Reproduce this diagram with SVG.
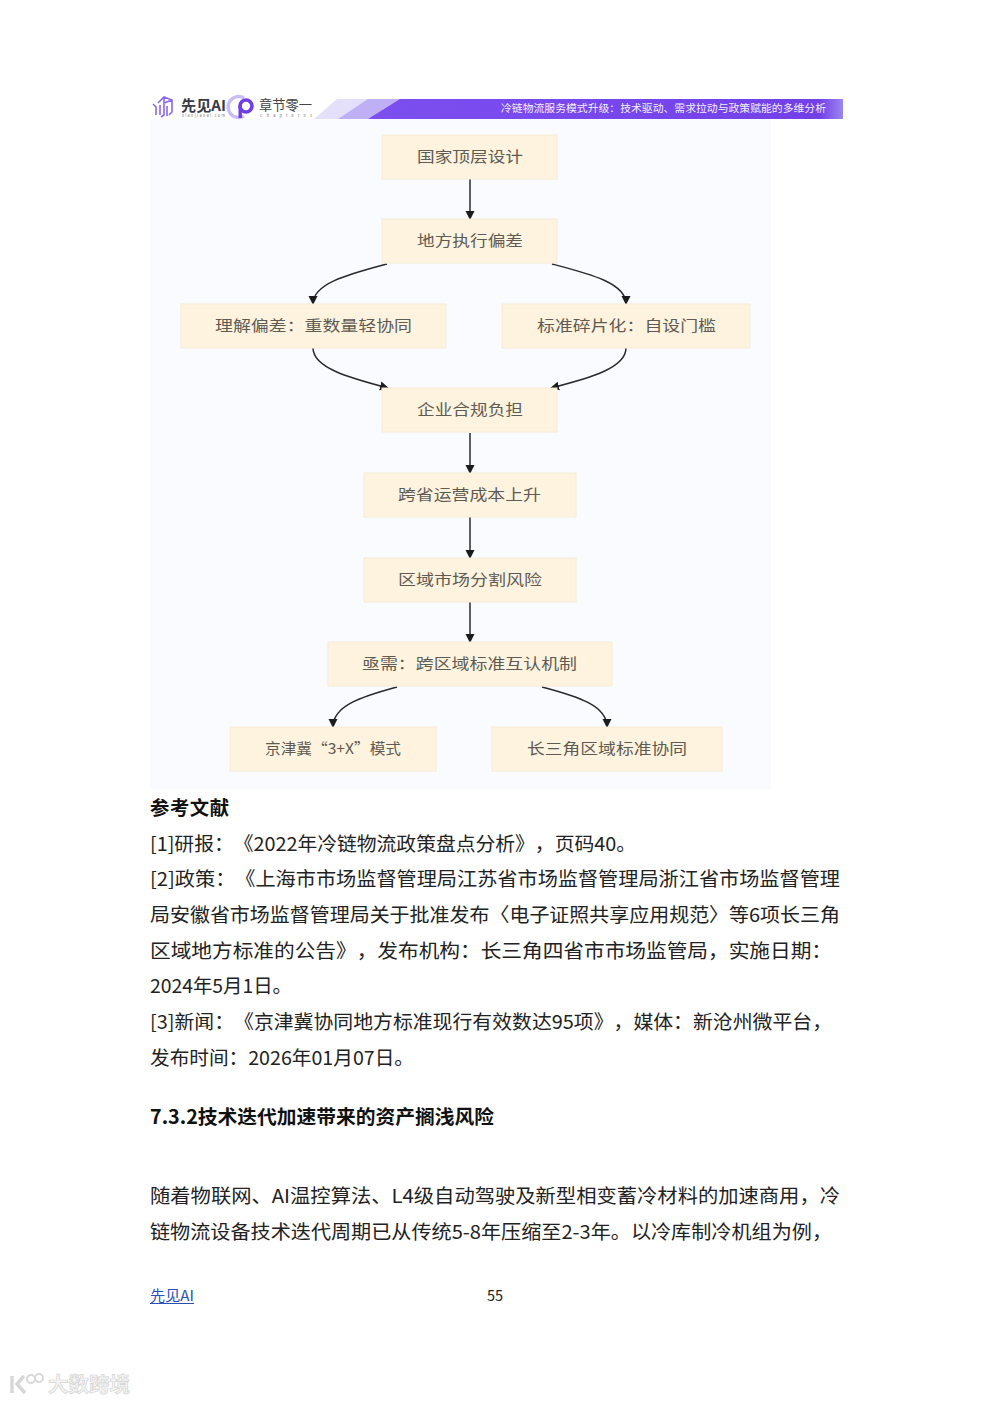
<svg xmlns="http://www.w3.org/2000/svg" width="992" height="1403" viewBox="0 0 992 1403">
<style>
text{font-family:"Noto Sans CJK SC","Noto Sans",sans-serif;text-spacing-trim:space-all}
.b{fill:#fdf3df;stroke:#f6ecd6;stroke-width:1}
.t{font-size:15px;fill:#5f5b52}
.c{fill:none;stroke:#2a2a2a;stroke-width:1.5}
.p{font-size:19.3px;fill:#222}
.h{font-size:19.3px;font-weight:700;fill:#111}
.i{fill:none;stroke:#8a68ee;stroke-width:1.6}
</style>
<defs>
<marker id="a" markerWidth="10" markerHeight="10" refX="8" refY="5" orient="auto" markerUnits="userSpaceOnUse"><path d="M0 .5L9 5L0 9.500z" fill="#1c1c1c"/></marker>
<linearGradient id="g" x1="0" x2="1"><stop offset="0" stop-color="#7c4ff0"/><stop offset=".95" stop-color="#7340e8"/><stop offset="1" stop-color="#9c85ee"/></linearGradient>
</defs>
<rect width="992" height="1403" fill="#fff"/>
<rect x="150" y="119" width="621" height="671" fill="#f9fbfe"/>
<g id="header">
<polygon points="314,119 337,99 843,99 843,119" fill="#e4dffa"/>
<polygon points="338,119 368,99 843,99 843,119" fill="#bfb0f5"/>
<polygon points="368,119 400,99 843,99 843,119" fill="url(#g)"/>
<path class="i" d="M153 104l3 3v8M158 103l6-6 8 3v12l-3 3M164 97v6l8-3M164 103v12l-3 2M160 105v10M167 106v10"/>
<text x="181" y="111" font-size="14.500" font-weight="700" fill="#3a3a44" textLength="45" lengthAdjust="spacingAndGlyphs">先见AI</text>
<text x="182" y="117" font-size="3.800" fill="#777" textLength="43">xianjianai.com</text>
<path d="M244 98a10.500 10.500 0 1 0 0 18" fill="none" stroke="#c9bdf6" stroke-width="3.500"/>
<circle cx="246" cy="106" r="6" fill="none" stroke="#6f3fe6" stroke-width="3.600"/>
<rect x="238.500" y="106" width="3.400" height="12" fill="#6f3fe6"/>
<text x="259" y="110" font-size="13.500" fill="#444" textLength="53" lengthAdjust="spacingAndGlyphs">章节零一</text>
<text x="260" y="116.500" font-size="3.800" fill="#666" textLength="52">Chapter01</text>
<text x="501" y="112" font-size="10" fill="#f3efff" textLength="325" lengthAdjust="spacingAndGlyphs">冷链物流服务模式升级：技术驱动、需求拉动与政策赋能的多维分析</text>
</g>
<g id="connectors">
<path class="c" marker-end="url(#a)" d="M470 179V219"/>
<path class="c" marker-end="url(#a)" d="M387 264C350 274 313 283 313 304"/>
<path class="c" marker-end="url(#a)" d="M552 264C590 274 626 283 626 304"/>
<path class="c" marker-end="url(#a)" d="M313 348C313 368 350 378 388 388"/>
<path class="c" marker-end="url(#a)" d="M626 348C626 368 590 378 551 388"/>
<path class="c" marker-end="url(#a)" d="M470 433V473"/>
<path class="c" marker-end="url(#a)" d="M470 517V558"/>
<path class="c" marker-end="url(#a)" d="M470 602V642"/>
<path class="c" marker-end="url(#a)" d="M397 687C360 697 333 706 333 727"/>
<path class="c" marker-end="url(#a)" d="M542 687C580 697 607 706 607 727"/>
</g>
<g id="n1"><rect class="b" x="382" y="135" width="175" height="44"/><text class="t" x="417" y="161.500" textLength="106" lengthAdjust="spacingAndGlyphs">国家顶层设计</text></g>
<g id="n2"><rect class="b" x="382" y="219" width="175" height="44"/><text class="t" x="417" y="245.500" textLength="106" lengthAdjust="spacingAndGlyphs">地方执行偏差</text></g>
<g id="n3"><rect class="b" x="181" y="304" width="265" height="44"/><text class="t" x="215" y="330.500" textLength="197" lengthAdjust="spacingAndGlyphs">理解偏差：重数量轻协同</text></g>
<g id="n4"><rect class="b" x="502" y="304" width="248" height="44"/><text class="t" x="537" y="330.500" textLength="179" lengthAdjust="spacingAndGlyphs">标准碎片化：自设门槛</text></g>
<g id="n5"><rect class="b" x="382" y="388" width="175" height="44"/><text class="t" x="417" y="414.500" textLength="106" lengthAdjust="spacingAndGlyphs">企业合规负担</text></g>
<g id="n6"><rect class="b" x="364" y="473" width="212" height="44"/><text class="t" x="398" y="499.500" textLength="143" lengthAdjust="spacingAndGlyphs">跨省运营成本上升</text></g>
<g id="n7"><rect class="b" x="364" y="558" width="212" height="44"/><text class="t" x="398" y="584.500" textLength="144" lengthAdjust="spacingAndGlyphs">区域市场分割风险</text></g>
<g id="n8"><rect class="b" x="328" y="642" width="284" height="44"/><text class="t" x="362" y="668.500" textLength="215" lengthAdjust="spacingAndGlyphs">亟需：跨区域标准互认机制</text></g>
<g id="n9"><rect class="b" x="230" y="727" width="206" height="44"/><text class="t" x="265" y="753.500" textLength="136" lengthAdjust="spacingAndGlyphs">京津冀“3+X”模式</text></g>
<g id="n10"><rect class="b" x="492" y="727" width="230" height="44"/><text class="t" x="527" y="753.500" textLength="160" lengthAdjust="spacingAndGlyphs">长三角区域标准协同</text></g>
<g id="text">
<text class="h" x="150" y="815" textLength="79">参考文献</text>
<text class="p" x="150" y="851" textLength="486" lengthAdjust="spacingAndGlyphs">[1]研报：《2022年冷链物流政策盘点分析》，页码40。</text>
<text class="p" x="150" y="886" textLength="690" lengthAdjust="spacingAndGlyphs">[2]政策：《上海市市场监督管理局江苏省市场监督管理局浙江省市场监督管理</text>
<text class="p" x="150" y="922" textLength="690" lengthAdjust="spacingAndGlyphs">局安徽省市场监督管理局关于批准发布〈电子证照共享应用规范〉等6项长三角</text>
<text class="p" x="150" y="958" textLength="682" lengthAdjust="spacingAndGlyphs">区域地方标准的公告》，发布机构：长三角四省市市场监管局，实施日期：</text>
<text class="p" x="150" y="993" textLength="142" lengthAdjust="spacingAndGlyphs">2024年5月1日。</text>
<text class="p" x="150" y="1029" textLength="682" lengthAdjust="spacingAndGlyphs">[3]新闻：《京津冀协同地方标准现行有效数达95项》，媒体：新沧州微平台，</text>
<text class="p" x="150" y="1065" textLength="264" lengthAdjust="spacingAndGlyphs">发布时间：2026年01月07日。</text>
<text class="h" x="150" y="1124" textLength="344" lengthAdjust="spacingAndGlyphs">7.3.2技术迭代加速带来的资产搁浅风险</text>
<text class="p" x="150" y="1203" textLength="690" lengthAdjust="spacingAndGlyphs">随着物联网、AI温控算法、L4级自动驾驶及新型相变蓄冷材料的加速商用，冷</text>
<text class="p" x="150" y="1239" textLength="682" lengthAdjust="spacingAndGlyphs">链物流设备技术迭代周期已从传统5-8年压缩至2-3年。以冷库制冷机组为例，</text>
<text x="150" y="1301" font-size="14.500" fill="#2a4fb8" textLength="44" lengthAdjust="spacingAndGlyphs">先见AI</text>
<rect x="150" y="1303" width="44" height="1" fill="#2a4fb8"/>
<text x="487" y="1301" font-size="14.500" fill="#222">55</text>
</g>
<g id="watermark">
<path d="M12 1376v17M24 1376l-7 8 8 9" fill="none" stroke="#d8d8d8" stroke-width="3.500"/>
<circle cx="31" cy="1379" r="4" fill="none" stroke="#d8d8d8" stroke-width="2"/>
<circle cx="39" cy="1378" r="4" fill="none" stroke="#d8d8d8" stroke-width="2"/>
<text x="48" y="1392" font-size="20.500" font-weight="700" fill="#f4f4f4" stroke="#d4d4d4" stroke-width=".7">大数跨境</text>
</g>
</svg>
